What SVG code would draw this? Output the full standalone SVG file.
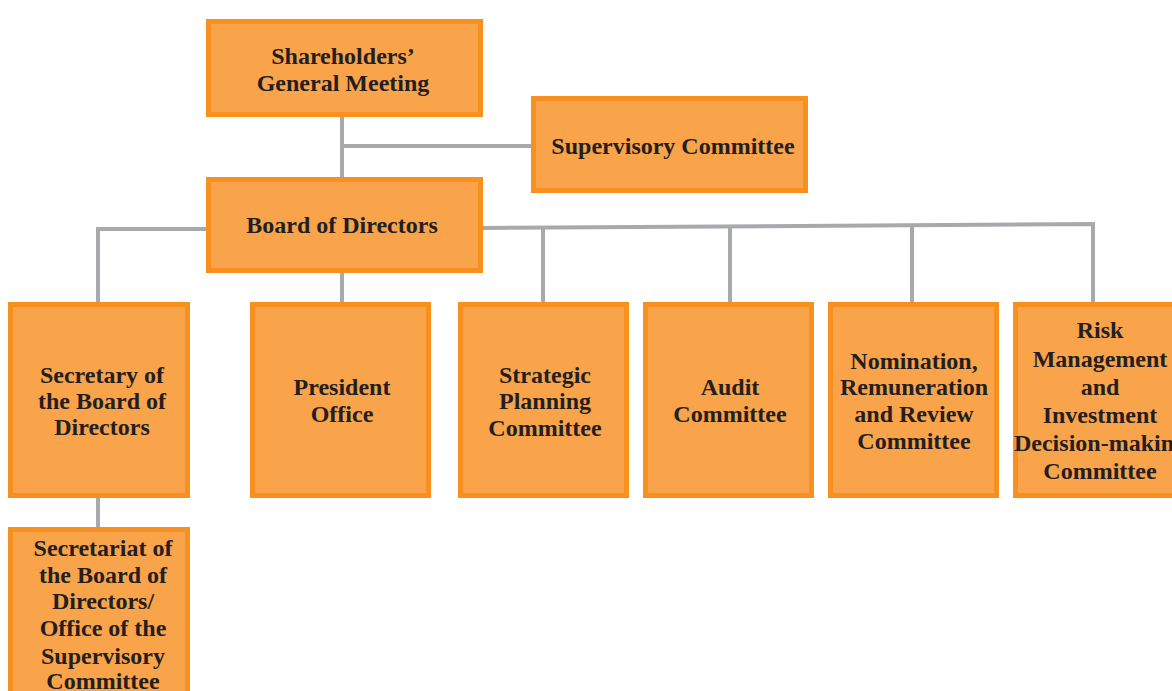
<svg xmlns="http://www.w3.org/2000/svg" width="1172" height="691" viewBox="0 0 1172 691">
<style>
.box{fill:#F9A34B;stroke:#F7901E;stroke-width:5}
.t{font-family:"Liberation Serif","Times New Roman",serif;font-weight:bold;font-size:24px;fill:#231F20;text-anchor:middle}
.c{fill:none;stroke:#A7A9AC;stroke-width:4}
</style>
<rect width="1172" height="691" fill="#ffffff"/>
<g id="connectors">
<path class="c" d="M342 117V177"/>
<path class="c" d="M342 146H531"/>
<path class="c" d="M206 229H98V302"/>
<path class="c" d="M342 273V302"/>
<path class="c" d="M483 228L1093 224V302"/>
<path class="c" d="M543 228V302"/>
<path class="c" d="M730 227V302"/>
<path class="c" d="M912 226V302"/>
<path class="c" d="M98 498V527"/>
</g>
<g id="shareholders">
<rect class="box" x="208.5" y="21.5" width="272" height="93"/>
<text class="t" x="343" y="64">Shareholders’</text>
<text class="t" x="343" y="91">General Meeting</text>
</g>
<g id="supervisory">
<rect class="box" x="533.5" y="98.5" width="272" height="92"/>
<text class="t" x="673" y="154">Supervisory Committee</text>
</g>
<g id="board">
<rect class="box" x="208.5" y="179.5" width="272" height="91"/>
<text class="t" x="342" y="233">Board of Directors</text>
</g>
<g id="secretary">
<rect class="box" x="10.5" y="304.5" width="177" height="191"/>
<text class="t" x="102" y="383">Secretary of</text>
<text class="t" x="102" y="409">the Board of</text>
<text class="t" x="102" y="435">Directors</text>
</g>
<g id="president">
<rect class="box" x="252.5" y="304.5" width="176" height="191"/>
<text class="t" x="342" y="395">President</text>
<text class="t" x="342" y="422">Office</text>
</g>
<g id="strategic">
<rect class="box" x="460.5" y="304.5" width="166" height="191"/>
<text class="t" x="545" y="383">Strategic</text>
<text class="t" x="545" y="409">Planning</text>
<text class="t" x="545" y="436">Committee</text>
</g>
<g id="audit">
<rect class="box" x="645.5" y="304.5" width="166" height="191"/>
<text class="t" x="730" y="395">Audit</text>
<text class="t" x="730" y="422">Committee</text>
</g>
<g id="nomination">
<rect class="box" x="830.5" y="304.5" width="166" height="191"/>
<text class="t" x="914" y="369">Nomination,</text>
<text class="t" x="914" y="395">Remuneration</text>
<text class="t" x="914" y="422">and Review</text>
<text class="t" x="914" y="449">Committee</text>
</g>
<g id="risk">
<rect class="box" x="1015.5" y="304.5" width="170" height="191"/>
<text class="t" x="1100" y="338">Risk</text>
<text class="t" x="1100" y="367">Management</text>
<text class="t" x="1100" y="395">and</text>
<text class="t" x="1100" y="423">Investment</text>
<text class="t" x="1100" y="451">Decision-making</text>
<text class="t" x="1100" y="479">Committee</text>
</g>
<g id="secretariat">
<rect class="box" x="10.5" y="529.5" width="177" height="180"/>
<text class="t" x="103" y="556">Secretariat of</text>
<text class="t" x="103" y="583">the Board of</text>
<text class="t" x="103" y="609">Directors/</text>
<text class="t" x="103" y="636">Office of the</text>
<text class="t" x="103" y="664">Supervisory</text>
<text class="t" x="103" y="689">Committee</text>
</g>
</svg>
